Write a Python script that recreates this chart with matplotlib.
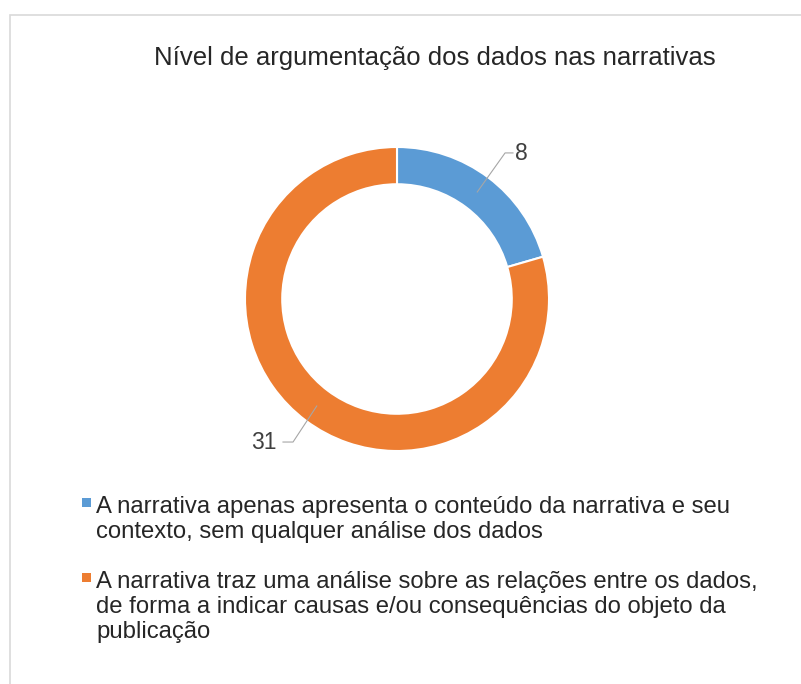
import matplotlib.pyplot as plt
from matplotlib.patches import Rectangle

plt.rcParams['font.family'] = ['Liberation Sans', 'DejaVu Sans']

# data
legend_lines = [["A narrativa apenas apresenta o conteúdo da narrativa e seu",
                 "contexto, sem qualquer análise dos dados"],
                ["A narrativa traz uma análise sobre as relações entre os dados,",
                 "de forma a indicar causas e/ou consequências do objeto da",
                 "publicação"]]
values = [8, 31]
colors = ["#5B9BD5", "#ED7D31"]
title = "Nível de argumentação dos dados nas narrativas"

W, H = 801, 684
fig = plt.figure(figsize=(W / 100, H / 100), dpi=100)
fig.patch.set_facecolor("white")

def px(x, y):
    return x / W, 1 - y / H

# light border (only top/left visible, cropped)
fig.patches.append(Rectangle(px(10, 720), 900 / W, (720 - 15) / H, transform=fig.transFigure,
                             fill=False, edgecolor="#d9d9d9", linewidth=1.2))

fig.text(*px(435, 65), title, ha="center", va="baseline", fontsize=18.5, color="#262626")

# donut
cx, cy, r = 397, 299, 152
ax = fig.add_axes([(cx - r) / W, (H - cy - r) / H, 2 * r / W, 2 * r / H])
wedges, _ = ax.pie(values, colors=colors, startangle=90, counterclock=False,
                   wedgeprops=dict(width=0.245, edgecolor="white", linewidth=1.5))
ax.set_xlim(-1, 1)
ax.set_ylim(-1, 1)
ax.set_aspect("equal")
ax.axis("off")

# data labels with leader lines
ax.plot([0.528, 0.711, 0.763], [0.704, 0.961, 0.961], color="#a6a6a6", lw=0.8, clip_on=False)
ax.text(0.776, 0.957, str(values[0]), ha="left", va="center", fontsize=16.5, color="#404040")
ax.plot([-0.528, -0.684, -0.75], [-0.704, -0.941, -0.941], color="#a6a6a6", lw=0.8, clip_on=False)
ax.text(-0.79, -0.945, str(values[1]), ha="right", va="center", fontsize=16.5, color="#404040")

# legend
first_baselines = [513, 588]
for lines, col, y0 in zip(legend_lines, colors, first_baselines):
    fig.patches.append(Rectangle(px(82, y0 - 6), 9 / W, 9 / H, transform=fig.transFigure,
                                 facecolor=col, edgecolor="none"))
    for i, line in enumerate(lines):
        fig.text(*px(96, y0 + 25 * i), line, ha="left", va="baseline", fontsize=17.2, color="#262626")

fig.savefig("out.png", dpi=100, facecolor="white")
